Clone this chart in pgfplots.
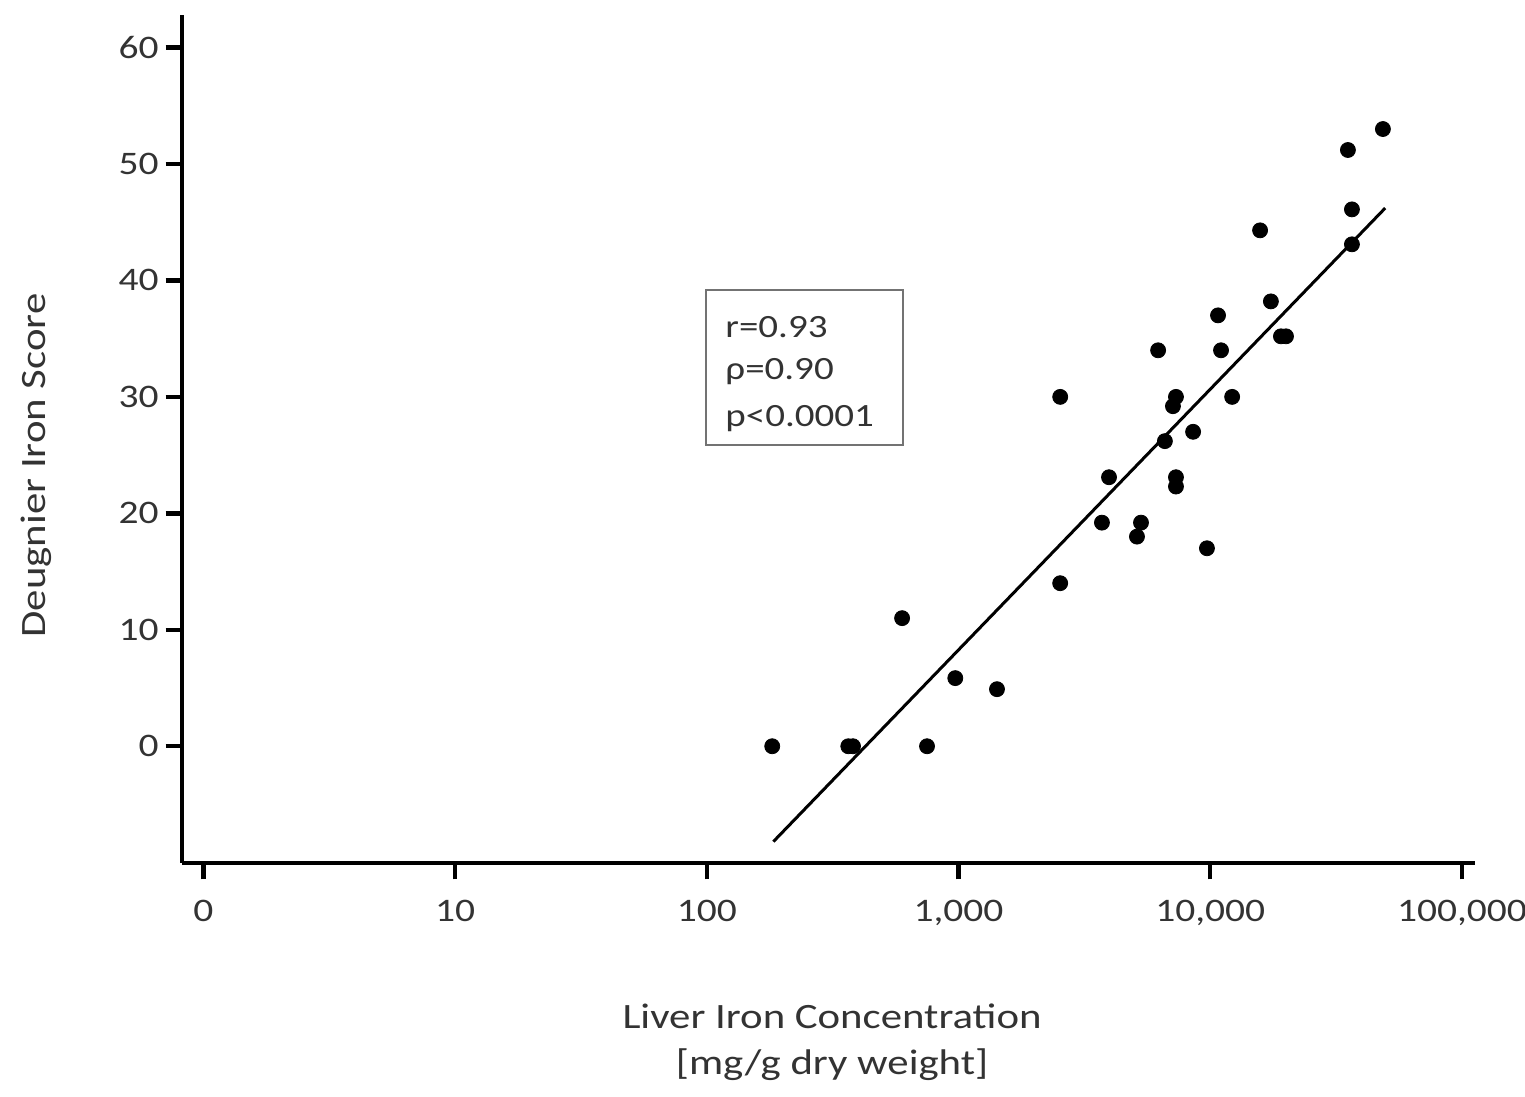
\documentclass[border=0pt]{standalone}
\usepackage{fontspec}
\setmainfont{Carlito}[FakeStretch=1.2]
\usepackage{pgfplots}
\pgfplotsset{compat=1.18}
\definecolor{txt}{gray}{0.2}
\begin{document}
\begin{tikzpicture}
\path[use as bounding box] (-91.15bp,-117.15bp) rectangle (671.35bp,431.35bp);
\begin{axis}[
  at={(0,0)}, anchor=south west,
  scale only axis, width=646.4bp, height=423.9bp,
  xmode=log, log basis x=10,
  xmin=0.825, xmax=112800, ymin=-10, ymax=62.8,
  axis lines=left,
  axis line style={-, line width=2.2bp, black},
  xtick={1,10,100,1000,10000,100000},
  xticklabels={0,10,100,{1,000},{10,000},{100,000}},
  ytick={0,10,20,30,40,50,60},
  minor xtick={}, minor ytick={},
  tick align=outside, major tick length=8.3bp,
  every tick/.style={line width=2.2bp, black},
  /pgf/number format/assume math mode=true,
  ticklabel style={font=\fontsize{16.5}{19}\selectfont, text=txt},
  xticklabel style={yshift=-7bp},
  xlabel={Liver Iron Concentration\\{}[mg/g dry weight]},
  xlabel style={at={(rel axis cs:0.5026,-0.2121)}, anchor=center, align=center,
    font=\fontsize{17.9}{23}\selectfont, text=txt},
  ylabel={Deugnier Iron Score},
  ylabel style={at={(rel axis cs:-0.1132,0.4686)}, anchor=center,
    font=\fontsize{17.9}{19}\selectfont, text=txt},
  clip=false,
]
\addplot[only marks, mark=*, mark size=3.75bp, black, mark options={fill=black}] table {
x y
182 0
365 0
381 0
750 0
597 11.0
971 5.85
1422 4.9
2535 30.0
2535 14.0
3715 19.2
3963 23.1
5117 18.0
5309 19.2
6209 34.0
6607 26.2
7112 29.2
7311 30.0
7311 23.1
7311 22.3
8551 27.0
9705 17.0
10740 37.0
11040 34.0
12220 30.0
15780 44.3
17420 38.2
19100 35.2
20000 35.2
35240 51.2
36560 46.1
36560 43.1
48530 53.0
};
\addplot[black, line width=1.5bp, no marks] coordinates {(183.9,-8.19) (49550,46.21)};
\draw[black!55, line width=1.1bp] (rel axis cs:0.4051,0.4927) rectangle (rel axis cs:0.5577,0.6756);
\node[anchor=base west, inner sep=0pt, text=txt, font=\fontsize{16.3}{19}\selectfont] at (rel axis cs:0.4198,0.619) {r=0.93};
\node[anchor=base west, inner sep=0pt, text=txt, font=\fontsize{16.3}{19}\selectfont] at (rel axis cs:0.4198,0.5694) {ρ=0.90};
\node[anchor=base west, inner sep=0pt, text=txt, font=\fontsize{16.3}{19}\selectfont] at (rel axis cs:0.4198,0.514) {p<0.0001};
\end{axis}
\end{tikzpicture}
\end{document}
